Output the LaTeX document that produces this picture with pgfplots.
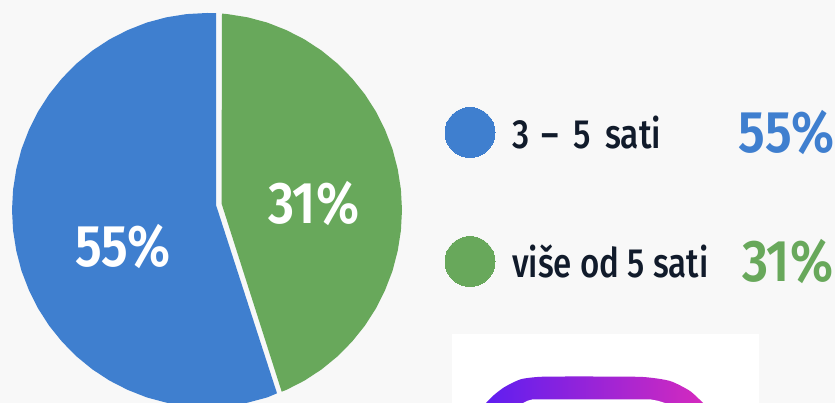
\documentclass[border=0pt]{standalone}
\usepackage{pgfplots}
\pgfplotsset{compat=1.18}
\usepackage{fontspec}
\setmainfont{Fira Sans}[BoldFont={Fira Sans Medium}]
\newfontfamily\semi{Fira Sans SemiBold}
\definecolor{bg}{HTML}{F8F8F8}
\definecolor{pieblue}{HTML}{3F7FCF}
\definecolor{piegreen}{HTML}{68A85B}
\definecolor{ink}{HTML}{111B2B}
\definecolor{gradl}{HTML}{5F1EF0}
\definecolor{gradm}{HTML}{9A20D2}
\definecolor{gradr}{HTML}{D42ABE}
\newcommand{\bigf}{\fontsize{59}{59}\selectfont\semi}
\newcommand{\legf}{\fontsize{41}{41}\selectfont\bfseries}
\begin{document}
\begin{tikzpicture}[x=1bp,y=1bp]
\begin{axis}[
  scale only axis, width=835bp, height=403bp,
  xmin=0, xmax=835, ymin=0, ymax=403,
  hide axis, clip=true,
]
% background
\addplot[fill=bg, draw=none] coordinates {(0,0)(835,0)(835,403)(0,403)} --cycle;
% blue wedge, 55 %
\addplot[fill=pieblue, draw=none] coordinates {
(216,198)(216,389.9)(207,390)(186.6,388.9)(166.5,385.7)(146.7,380.4)(127.7,372.9)(109.5,363.6)(92.4,352.4)(76.5,339.4)(62.1,324.8)(49.2,308.8)(38.1,291.5)(28.9,273.1)(21.5,253.9)(16.3,233.9)(13.1,213.6)(12,193)(13.1,172.4)(16.3,152.1)(21.5,132.1)(28.9,112.9)(38.1,94.5)(49.2,77.2)(62.1,61.2)(76.5,46.6)(92.4,33.6)(109.5,22.4)(127.7,13.1)(146.7,5.6)(166.5,0.3)(186.6,-2.9)(207,-4)(227.4,-2.9)(247.5,0.3)(267.3,5.6)(277,9.7)
} --cycle;
% green wedge, 31 %
\addplot[fill=piegreen, draw=none] coordinates {
(221.5,199.7)(222,389.4)(227.4,388.9)(247.5,385.7)(267.3,380.4)(286.3,372.9)(304.5,363.6)(321.6,352.4)(337.5,339.4)(351.9,324.8)(364.8,308.8)(375.9,291.5)(385.1,273.1)(392.5,253.9)(397.7,233.9)(400.9,213.6)(402,193)(400.9,172.4)(397.7,152.1)(392.5,132.1)(385.1,112.9)(375.9,94.5)(364.8,77.2)(351.9,61.2)(337.5,46.6)(321.6,33.6)(304.5,22.4)(286.3,13.1)(281.7,11.3)
} --cycle;
% legend markers
\addplot[only marks, mark=*, mark size=25bp, mark options={fill=pieblue, draw=pieblue, line width=0pt}] coordinates {(470,270.5)};
\addplot[only marks, mark=*, mark size=25bp, mark options={fill=piegreen, draw=piegreen, line width=0pt}] coordinates {(470,141.5)};
% white box and icon
\addplot[fill=white, draw=none] coordinates {(452,0)(759,0)(759,69)(452,69)} --cycle;
\addplot[draw=none, smooth, tension=0.4, left color=gradl, middle color=gradm, right color=gradr] coordinates {
(486,0)(494,8)(503,15)(513,20.5)(523,24.3)(543,26.3)(593,26.5)(643,26)(670,22)(690,12)(703,0)} --cycle;
\addplot[fill=white, draw=none] coordinates {(523,0)(528,2.4)(533,3.7)(650,3.7)(658,2.2)(665,0)} --cycle;
% texts
\node[white, font=\bigf, anchor=center, xscale=.86] at (axis cs:123,156.5) {55\%};
\node[white, font=\bigf, anchor=center, xscale=.86] at (axis cs:313.5,199) {31\%};
\node[pieblue, font=\bigf, anchor=center, xscale=.86] at (axis cs:786.5,270) {55\%};
\node[piegreen, font=\bigf, anchor=center, xscale=.86] at (axis cs:787.5,141) {31\%};
\node[ink, font=\legf, anchor=base west, inner sep=0pt, xscale=.82] at (axis cs:512,254) {3\hspace{15bp}–\hspace{18bp}5\hspace{17bp}sati};
\node[ink, font=\legf, anchor=base west, inner sep=0pt, xscale=.81] at (axis cs:512,125) {više od 5 sati};
\end{axis}
\end{tikzpicture}
\end{document}
